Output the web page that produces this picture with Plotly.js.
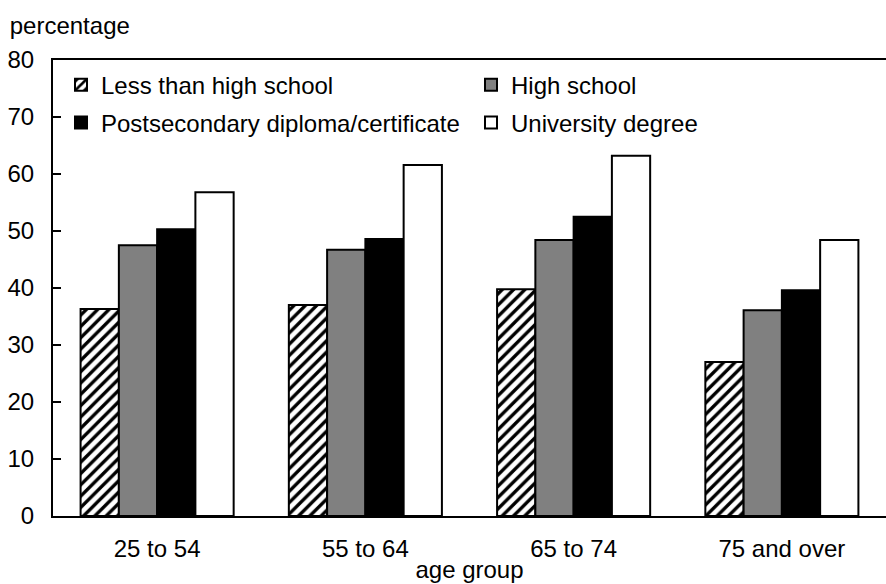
<!DOCTYPE html>
<html>
<head>
<meta charset="utf-8">
<script src="https://cdn.plot.ly/plotly-3.0.1.min.js"></script>
<style>html,body{margin:0;padding:0;background:#fff;}#chart{width:886px;height:584px;}</style>
</head>
<body>
<div id="chart"></div>
<script>
const ageGroups = ["25 to 54", "55 to 64", "65 to 74", "75 and over"];
const lessThanHighSchool = [36.3, 37.0, 39.8, 27.0];
const highSchool = [47.5, 46.7, 48.4, 36.1];
const postsecondary = [50.3, 48.6, 52.5, 39.6];
const university = [56.8, 61.6, 63.2, 48.4];
const seriesNames = ["Less than high school", "High school", "Postsecondary diploma/certificate", "University degree"];
const yTicks = [0, 10, 20, 30, 40, 50, 60, 70, 80];

const FONT = "Liberation Sans, Arial, sans-serif";
const FS = 24;
const line = {color: "#000", width: 2};

const traces = [
  {type: "bar", name: seriesNames[0], x: ageGroups, y: lessThanHighSchool, legend: "legend",
   marker: {color: "#fff", line: line, pattern: {shape: "/", fgcolor: "#000", bgcolor: "#fff", size: 8, solidity: 0.42}}},
  {type: "bar", name: seriesNames[1], x: ageGroups, y: highSchool, legend: "legend2",
   marker: {color: "#808080", line: line}},
  {type: "bar", name: seriesNames[2], x: ageGroups, y: postsecondary, legend: "legend3",
   marker: {color: "#000", line: line}},
  {type: "bar", name: seriesNames[3], x: ageGroups, y: university, legend: "legend4",
   marker: {color: "#fff", line: line}}
];

const legendCommon = {
  orientation: "h", xanchor: "left", yanchor: "middle", bgcolor: "rgba(0,0,0,0)",
  font: {family: FONT, size: FS, color: "#000"}, itemclick: false
};
const col1 = 0.0096, col2 = 0.5018, row1 = 0.945, row2 = 0.862;

const layout = {
  width: 886, height: 584,
  margin: {l: 53, r: 0, t: 60, b: 68},
  paper_bgcolor: "#fff", plot_bgcolor: "#fff",
  font: {family: FONT, size: FS, color: "#000"},
  barmode: "group", bargap: 0.265, bargroupgap: 0,
  showlegend: true,
  legend: Object.assign({}, legendCommon, {x: col1, y: row1}),
  legend2: Object.assign({}, legendCommon, {x: col2, y: row1}),
  legend3: Object.assign({}, legendCommon, {x: col1, y: row2}),
  legend4: Object.assign({}, legendCommon, {x: col2, y: row2}),
  title: {text: "percentage", x: 0.011, xref: "container", xanchor: "left", y: 0.957, yref: "container", yanchor: "middle",
          font: {family: FONT, size: FS, color: "#000"}},
  xaxis: {
    type: "category", range: [-0.5, 3.5], showline: true, linecolor: "#000", linewidth: 2, mirror: true,
    ticks: "", showgrid: false, zeroline: false, ticklabelstandoff: 10,
    tickfont: {family: FONT, size: FS, color: "#000"},
    title: {text: "age group", standoff: 0, font: {family: FONT, size: FS, color: "#000"}},
    automargin: false, fixedrange: true
  },
  yaxis: {
    range: [0, 80], tickvals: yTicks, ticktext: yTicks.map(String), showline: true, linecolor: "#000", linewidth: 2,
    ticks: "inside", ticklen: 8, tickwidth: 2, tickcolor: "#000", showgrid: false, zeroline: false,
    ticklabelstandoff: 12, tickfont: {family: FONT, size: FS, color: "#000"}, automargin: false, fixedrange: true
  }
};

Plotly.newPlot("chart", traces, layout, {displayModeBar: false, staticPlot: true});
</script>
</body>
</html>
